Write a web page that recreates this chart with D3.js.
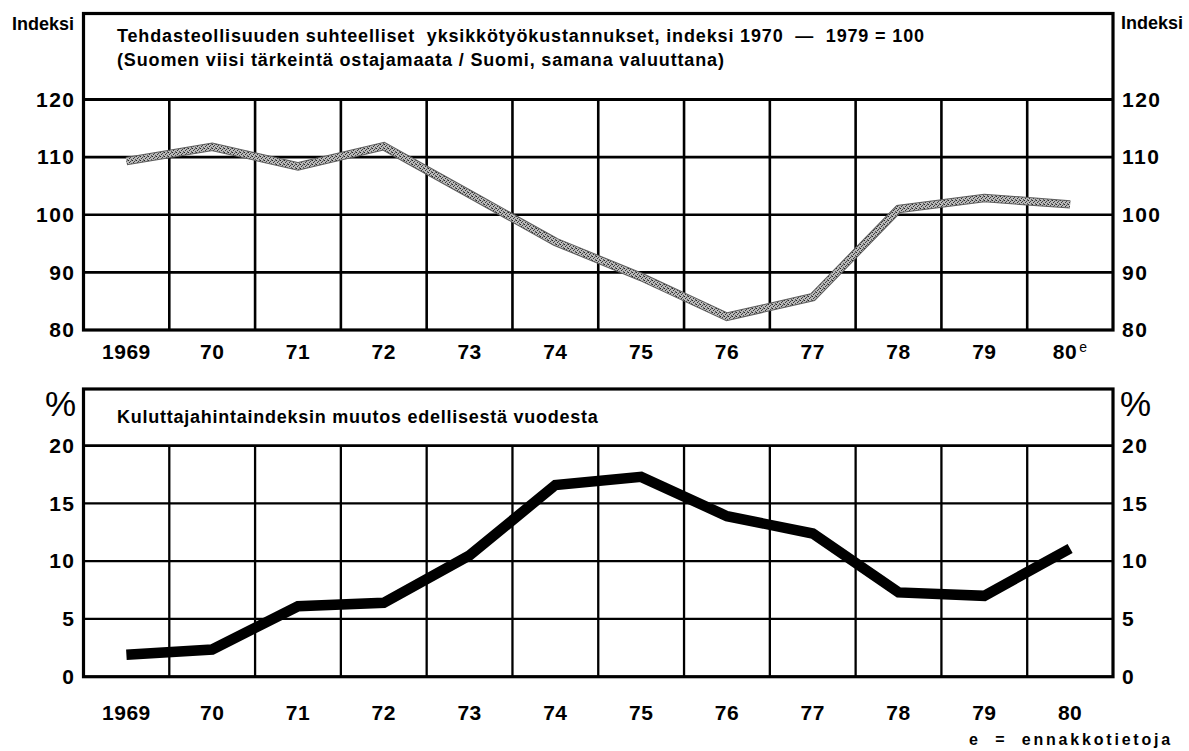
<!DOCTYPE html>
<html>
<head>
<meta charset="utf-8">
<script src="https://cdn.jsdelivr.net/npm/d3@7"></script>
<style>
  body { margin: 0; background: #fff; }
  svg { display: block; }
  text { font-family: "Liberation Sans", Arial, Helvetica, sans-serif; fill: #000; }
</style>
</head>
<body>
<svg id="chart" width="1189" height="751"></svg>
<script>

// years on both x axes
var years = [1969, 1970, 1971, 1972, 1973, 1974, 1975, 1976, 1977, 1978, 1979, 1980];
var yearLabels = ["1969", "70", "71", "72", "73", "74", "75", "76", "77", "78", "79", "80"];

// relative unit labour costs, index 1970-1979 = 100
var unitCostIndex = [109.3, 111.8, 108.4, 111.9, 103.6, 95.3, 89.2, 82.3, 85.7, 101.0, 102.9, 101.8];
// consumer price index, change from previous year, %
var cpiChange = [1.9, 2.35, 6.1, 6.4, 10.5, 16.6, 17.3, 13.9, 12.4, 7.3, 7.0, 11.1];

var indexTicks = [80, 90, 100, 110, 120];
var percentTicks = [0, 5, 10, 15, 20];

var svg = d3.select('#chart');

var left = 83.5, right = 1113;

var x = d3.scaleBand()
    .domain(years)
    .range([left, right])
    .paddingInner(0)
    .paddingOuter(0);

var cx = function(d) { return x(d) + x.bandwidth() / 2; };

// stipple pattern for the grey line
var defs = svg.append('defs');
var pat = defs.append('pattern')
    .attr('id', 'stipple')
    .attr('patternUnits', 'userSpaceOnUse')
    .attr('width', 4)
    .attr('height', 4);
pat.append('rect').attr('width', 4).attr('height', 4).attr('fill', '#b8b8b8');
pat.append('rect').attr('x', 0).attr('y', 0).attr('width', 1).attr('height', 1).attr('fill', '#222');
pat.append('rect').attr('x', 2).attr('y', 1).attr('width', 1).attr('height', 1).attr('fill', '#444');
pat.append('rect').attr('x', 1).attr('y', 2).attr('width', 1).attr('height', 1).attr('fill', '#333');
pat.append('rect').attr('x', 3).attr('y', 3).attr('width', 1).attr('height', 1).attr('fill', '#555');
pat.append('rect').attr('x', 3).attr('y', 0).attr('width', 1).attr('height', 1).attr('fill', '#777');

function drawPanel(opts) {

    var y = d3.scaleLinear()
        .domain(opts.domain)
        .range([opts.bottom, opts.gridTop]);

    var g = svg.append('g');

    // horizontal grid
    g.selectAll('.hgrid')
        .data(opts.ticks.slice(1, -1))
        .enter()
            .append('line')
            .attr('x1', left)
            .attr('x2', right)
            .attr('y1', function(d) { return y(d); })
            .attr('y2', function(d) { return y(d); })
            .attr('stroke', '#000')
            .attr('stroke-width', opts.grid);

    // vertical grid, only inside the plot
    g.selectAll('.vgrid')
        .data(years.slice(1))
        .enter()
            .append('line')
            .attr('x1', function(d) { return x(d); })
            .attr('x2', function(d) { return x(d); })
            .attr('y1', y(opts.domain[1]))
            .attr('y2', opts.bottom)
            .attr('stroke', '#000')
            .attr('stroke-width', opts.grid);

    // line under title
    g.append('line')
        .attr('x1', left).attr('x2', right)
        .attr('y1', y(opts.domain[1])).attr('y2', y(opts.domain[1]))
        .attr('stroke', '#000')
        .attr('stroke-width', 2.8);

    var line = d3.line()
        .x(function(d, i) { return cx(years[i]); })
        .y(function(d) { return y(d); });

    if (opts.stipple) {
        g.append('path')
            .attr('d', line(opts.values))
            .attr('fill', 'none')
            .attr('stroke', '#5e5e5e')
            .attr('stroke-width', 8.5);
        g.append('path')
            .attr('d', line(opts.values))
            .attr('fill', 'none')
            .attr('stroke', 'url(#stipple)')
            .attr('stroke-width', 6.5);
    } else {
        g.append('path')
            .attr('d', line(opts.values))
            .attr('fill', 'none')
            .attr('stroke', '#000')
            .attr('stroke-width', 10.5)
            .attr('stroke-linejoin', 'miter');
    }

    // frame
    g.append('rect')
        .attr('x', left)
        .attr('y', opts.boxTop)
        .attr('width', right - left)
        .attr('height', opts.bottom - opts.boxTop)
        .attr('fill', 'none')
        .attr('stroke', '#000')
        .attr('stroke-width', 3.2);

    // y axes
    var yl = g.append('g')
        .attr('transform', 'translate(' + left + ',0)')
        .call(d3.axisLeft(y).tickValues(opts.ticks).tickSize(0).tickPadding(8));
    var yr = g.append('g')
        .attr('transform', 'translate(' + right + ',0)')
        .call(d3.axisRight(y).tickValues(opts.ticks).tickSize(0).tickPadding(9));

    // x axis
    var xa = g.append('g')
        .attr('transform', 'translate(0,' + opts.bottom + ')')
        .call(d3.axisBottom(x).tickSize(0).tickPadding(opts.xPad)
            .tickFormat(function(d, i) { return yearLabels[i]; }));

    [yl, yr, xa].forEach(function(a) {
        a.select('.domain').remove();
        a.selectAll('text')
            .attr('font-family', '"Liberation Sans", Arial, sans-serif')
            .attr('font-size', 21)
            .attr('font-weight', 'bold')
            .attr('fill', '#000');
    });
    yl.selectAll('text').attr('letter-spacing', 1.5);
    yr.selectAll('text').attr('letter-spacing', 1.5);
    xa.selectAll('text').attr('letter-spacing', 0.5);

    if (opts.superE) {
        xa.selectAll('.tick text')
            .filter(function(d) { return d === 1980; })
            .append('tspan')
            .attr('dy', '-0.55em')
            .attr('dx', 2)
            .attr('font-size', 14)
            .attr('font-weight', 'normal')
            .text('e');
    }

    opts.titles.forEach(function(t, i) {
        g.append('text')
            .attr('x', 117)
            .attr('y', opts.titleY + i * 24)
            .attr('font-size', 18)
            .attr('font-weight', 'bold')
            .attr('letter-spacing', opts.titleSpacing)
            .text(t);
    });

    return g;
}

drawPanel({
    domain: [80, 120],
    ticks: indexTicks,
    values: unitCostIndex,
    bottom: 330,
    gridTop: 99.5,
    boxTop: 13.5,
    grid: 2.6,
    xPad: 14.5,
    stipple: true,
    superE: true,
    titleY: 42,
    titleSpacing: 0.85,
    titles: [
        'Tehdasteollisuuden suhteelliset\u00a0 yksikkötyökustannukset, indeksi 1970\u00a0 \u2014\u00a0 1979 = 100',
        '(Suomen viisi tärkeintä ostajamaata / Suomi, samana valuuttana)'
    ]
});

drawPanel({
    domain: [0, 20],
    ticks: percentTicks,
    values: cpiChange,
    bottom: 676.7,
    gridTop: 445.7,
    boxTop: 389,
    grid: 2.3,
    xPad: 28,
    stipple: false,
    superE: false,
    titleY: 423,
    titleSpacing: 0.75,
    titles: ['Kuluttajahintaindeksin muutos edellisestä vuodesta']
});

// unit labels
svg.append('text').attr('x', 74).attr('y', 30).attr('text-anchor', 'end')
    .attr('font-size', 18).attr('font-weight', 'bold').text('Indeksi');
svg.append('text').attr('x', 1121).attr('y', 29)
    .attr('font-size', 18).attr('font-weight', 'bold').text('Indeksi');
svg.append('text').attr('x', 76).attr('y', 416).attr('text-anchor', 'end')
    .attr('font-size', 35).text('%');
svg.append('text').attr('x', 1120).attr('y', 416)
    .attr('font-size', 35).text('%');

svg.append('text').attr('x', 1173).attr('y', 745).attr('text-anchor', 'end')
    .attr('font-size', 16).attr('font-weight', 'bold').attr('letter-spacing', 2.8)
    .text('e\u00a0 =\u00a0 ennakkotietoja');

</script>
</body>
</html>
